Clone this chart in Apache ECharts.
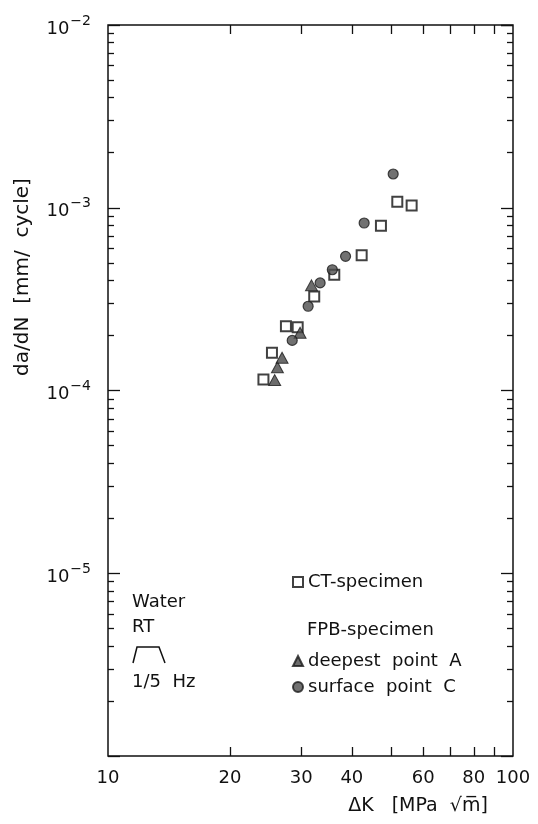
<!DOCTYPE html>
<html>
<head>
<meta charset="utf-8">
<script src="https://cdn.jsdelivr.net/npm/echarts@6/dist/echarts.min.js"></script>
<style>
html,body{margin:0;padding:0;background:#fff;}
#chart{width:538px;height:824px;}
</style>
</head>
<body>
<div id="chart"></div>
<script>
// ---- data ----
var ctX = [24.2, 25.4, 27.5, 29.4, 32.3, 36.2, 42.3, 47.2, 51.8, 56.2];
var ctY = [1.15e-4, 1.61e-4, 2.25e-4, 2.22e-4, 3.27e-4, 4.30e-4, 5.49e-4, 7.97e-4, 1.08e-3, 1.03e-3];

var deepX = [25.8, 26.2, 26.9, 29.8, 31.8];
var deepY = [1.14e-4, 1.34e-4, 1.51e-4, 2.07e-4, 3.76e-4];

var surfX = [28.5, 31.2, 33.4, 35.8, 38.6, 42.9, 50.6];
var surfY = [1.88e-4, 2.89e-4, 3.88e-4, 4.58e-4, 5.42e-4, 8.25e-4, 1.53e-3];

// ---- ticks / labels ----
var xLabelValues = [10, 20, 30, 40, 60, 80, 100];
var xTickValues = [20, 30, 40, 50, 60, 70, 80, 90];
var yDecades = [1e-6, 1e-5, 1e-4, 1e-3];
var yMinorMantissas = [2, 3, 4, 5, 6, 7, 8, 9];
var yMinorValues = [];
yDecades.forEach(function (d) { yMinorMantissas.forEach(function (m) { yMinorValues.push(+(m * d).toPrecision(3)); }); });

function pairs(xs, ys) { return xs.map(function (x, i) { return [x, ys[i]]; }); }

var FONT = 'DejaVu Sans';
var INK = '#111';

var chart = echarts.init(document.getElementById('chart'), null, {renderer: 'canvas'});

function xAxisDef(pos, showLabel) {
  return {
    type: 'log', logBase: 10, min: 10, max: 100, position: pos,
    axisLine: {show: false, onZero: false},
    splitLine: {show: false},
    axisTick: {show: true, inside: true, length: 9, customValues: xTickValues, lineStyle: {color: INK, width: 1.3}},
    axisLabel: {show: showLabel, customValues: xLabelValues, margin: 13, fontSize: 18, color: INK, fontFamily: FONT}
  };
}
function yAxisDef(pos, major, showLabel) {
  var a = {
    type: 'log', logBase: 10, min: 1e-6, max: 1e-2, position: pos,
    axisLine: {show: false, onZero: false},
    splitLine: {show: false},
    minorTick: {show: false},
    axisTick: {show: true, inside: true, length: major ? 12 : 6, lineStyle: {color: INK, width: 1.3}},
    axisLabel: {show: false}
  };
  if (!major) a.axisTick.customValues = yMinorValues;
  if (showLabel) {
    a.axisLabel = {
      show: true, margin: 17, color: INK, fontFamily: FONT,
      formatter: function (v) {
        var e = Math.round(Math.log(v) / Math.LN10);
        if (e === -6) return '';
        return '{b|10}{s|\u2212' + Math.abs(e) + '}';
      },
      rich: {
        b: {fontSize: 18, fontFamily: FONT, color: INK, padding: [8, 0, 0, 0]},
        s: {fontSize: 14, fontFamily: FONT, color: INK, padding: [0, 0, 8, 1]}
      }
    };
  }
  return a;
}

var option = {
  backgroundColor: '#fff',
  animation: false,
  grid: {left: 108, top: 25, right: 25, bottom: 68, show: true, borderColor: INK, borderWidth: 1.5, backgroundColor: 'transparent'},
  xAxis: [xAxisDef('bottom', true), xAxisDef('top', false)],
  yAxis: [yAxisDef('left', true, true), yAxisDef('left', false, false), yAxisDef('right', true, false), yAxisDef('right', false, false)],
  legend: [
    {data: ['CT-specimen'], left: 287, top: 567, itemWidth: 10, itemHeight: 10,
     textStyle: {fontSize: 18, fontFamily: FONT, color: INK, lineHeight: 20}, selectedMode: false},
    {data: ['deepest point A', 'surface point C'], orient: 'vertical', left: 287, top: 646, itemGap: 6, itemWidth: 10, itemHeight: 10,
     textStyle: {fontSize: 18, fontFamily: FONT, color: INK, lineHeight: 20}, selectedMode: false,
     formatter: function (n) { return n.replace(/ /g, '  '); }}
  ],
  series: [
    {name: 'CT-specimen', type: 'scatter', data: pairs(ctX, ctY), symbol: 'rect', symbolSize: 10,
     itemStyle: {color: '#fff', borderColor: INK, borderWidth: 2}, z: 3},
    {name: 'deepest point A', type: 'scatter', data: pairs(deepX, deepY), symbol: 'triangle', symbolSize: [12, 11],
     itemStyle: {color: '#474747', borderColor: '#1a1a1a', borderWidth: 1}, z: 4},
    {name: 'surface point C', type: 'scatter', data: pairs(surfX, surfY), symbol: 'circle', symbolSize: 10,
     itemStyle: {color: '#4d4d4d', borderColor: '#1a1a1a', borderWidth: 1.2}, z: 5}
  ],
  graphic: [
    {type: 'text', rotation: Math.PI / 2, x: 23, y: 277, style: {text: 'da/dN  [mm/  cycle]', fontSize: 20, fontFamily: FONT, fill: INK, align: 'center', verticalAlign: 'middle'}},
    {type: 'text', x: 418, y: 806, style: {text: '\u0394K   [MPa  \u221Am\u0305]', fontSize: 19, fontFamily: FONT, fill: INK, align: 'center', verticalAlign: 'middle'}},
    {type: 'text', x: 307, y: 630, style: {text: 'FPB-specimen', fontSize: 18, fontFamily: FONT, fill: INK, align: 'left', verticalAlign: 'middle'}},
    {type: 'text', x: 132, y: 602, style: {text: 'Water', fontSize: 18, fontFamily: FONT, fill: INK, align: 'left', verticalAlign: 'middle'}},
    {type: 'text', x: 132, y: 627, style: {text: 'RT', fontSize: 18, fontFamily: FONT, fill: INK, align: 'left', verticalAlign: 'middle'}},
    {type: 'text', x: 132, y: 682, style: {text: '1/5  Hz', fontSize: 18, fontFamily: FONT, fill: INK, align: 'left', verticalAlign: 'middle'}},
    {type: 'polyline', shape: {points: [[133, 663], [137, 647], [159, 647], [165, 663]]}, style: {stroke: INK, lineWidth: 1.5, fill: null}}
  ]
};
chart.setOption(option);
</script>
</body>
</html>
